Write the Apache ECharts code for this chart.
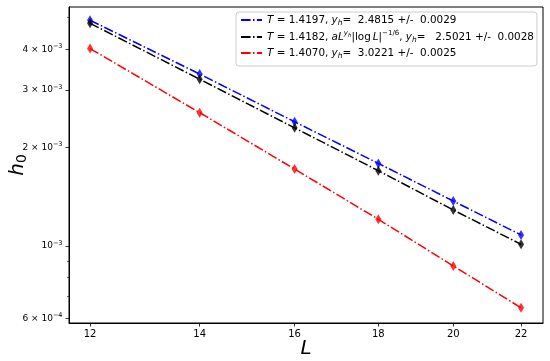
<!DOCTYPE html>
<html>
<head>
<meta charset="utf-8">
<script src="https://cdn.jsdelivr.net/npm/echarts@6/dist/echarts.min.js"></script>
<style>html,body{margin:0;padding:0;background:#fff}#c{width:550px;height:361px}</style>
</head>
<body>
<div id="c"></div>
<script>
const L = [12, 14, 16, 18, 20, 22];
const hBlue = [4.91e-3, 3.36e-3, 2.40e-3, 1.79e-3, 1.373e-3, 1.081e-3];
const hBlack = [4.805e-3, 3.24e-3, 2.30e-3, 1.70e-3, 1.289e-3, 1.012e-3];
const hRed = [4.02e-3, 2.56e-3, 1.72e-3, 1.207e-3, 0.869e-3, 0.647e-3];
const xTicks = [12, 14, 16, 18, 20, 22];
const yTicks = [6e-4, 1e-3, 2e-3, 3e-3, 4e-3];
const yTickLabels = ['6 × 10{sup|−4}', '10{sup|−3}', '2 × 10{sup|−3}', '3 × 10{sup|−3}', '4 × 10{sup|−3}'];
const yMinorTicks = [7e-4, 8e-4, 9e-4, 5e-3];
const names = [
  'T = 1.4197, y_h=  2.4815 +/-  0.0029',
  'T = 1.4182, aL^{y_h}|log L|^{-1/6}, y_h=   2.5021 +/-  0.0028',
  'T = 1.4070, y_h=  3.0221 +/-  0.0025'
];
const richNames = [
  '{i|T} = 1.4197, {i|y}{sub|h}=  2.4815 +/-  0.0029',
  '{i|T} = 1.4182, {i|aL}{supi|y}{supsub|h}|log\u2009{i|L}|{sup|−1/6}, {i|y}{sub|h}=   2.5021 +/-  0.0028',
  '{i|T} = 1.4070, {i|y}{sub|h}=  3.0221 +/-  0.0025'
];
const colors = ['#0000ff', '#000000', '#ff0000'];
const seriesVals = [hBlue, hBlack, hRed];

const lg = Math.log10;
const FONT = 'DejaVu Sans';
const dash = [9.6, 2.4, 1.5, 2.4];

const series = [];
seriesVals.forEach((vals, k) => {
  const d = L.map((x, i) => [lg(x), lg(vals[i])]);
  series.push({
    name: names[k], type: 'line', data: d, symbol: 'none',
    lineStyle: { color: colors[k], width: 1.5, type: dash },
    itemStyle: { color: colors[k] }, z: 2, animation: false
  });
  series.push({
    name: 'pts' + k, type: 'scatter', data: d, symbol: 'diamond', symbolSize: [6, 10],
    itemStyle: { color: colors[k] }, z: 3, animation: false
  });
});

const chart = echarts.init(document.getElementById('c'), null, { renderer: 'canvas' });
chart.setOption({
  animation: false,
  backgroundColor: '#fff',
  textStyle: { fontFamily: FONT },
  grid: { left: 69, right: 7, top: 7, bottom: 38, show: true, borderColor: '#000', borderWidth: 1, containLabel: false, outerBoundsMode: 'none' },
  legend: {
    data: names,
    orient: 'vertical',
    left: 236, top: 12,
    padding: [2, 3, 6, 4],
    itemWidth: 21, itemHeight: 10, itemGap: 3,
    backgroundColor: '#fff',
    borderColor: '#cccccc', borderWidth: 1, borderRadius: 3,
    itemStyle: { opacity: 0 },
    formatter: function (n) { return richNames[names.indexOf(n)]; },
    textStyle: {
      fontFamily: FONT, fontSize: 10.4, color: '#000', lineHeight: 12,
      rich: {
        i: { fontStyle: 'italic', fontSize: 10.4, fontFamily: FONT },
        sub: { fontStyle: 'italic', fontSize: 7.5, padding: [6, 0, 0, 0], fontFamily: FONT },
        supi: { fontStyle: 'italic', fontSize: 7, padding: [0, 0, 7, 0], fontFamily: FONT },
        supsub: { fontStyle: 'italic', fontSize: 5.5, padding: [0, 0, 3, 0], fontFamily: FONT },
        sup: { fontSize: 7, padding: [0, 0, 7, 0], fontFamily: FONT }
      }
    }
  },
  xAxis: {
    type: 'value', min: lg(11.65), max: lg(22.69),
    name: 'L', nameLocation: 'middle', nameGap: 16, nameMoveOverlap: false,
    nameTextStyle: { fontSize: 20, fontStyle: 'italic', color: '#000', fontFamily: FONT },
    splitLine: { show: false },
    axisLine: { show: true, onZero: false, lineStyle: { color: '#000', width: 1 } },
    axisTick: { show: true, length: 3.5, lineStyle: { color: '#000', width: 0.8 }, customValues: xTicks.map(lg) },
    axisLabel: {
      customValues: xTicks.map(lg), margin: 6, fontSize: 10, color: '#000', fontFamily: FONT,
      formatter: function (v) { return String(Math.round(Math.pow(10, v))); }
    }
  },
  yAxis: [{
    type: 'value', min: -3.2357, max: -2.2684,
    name: '{i|h}{s|0}', nameLocation: 'middle', nameGap: 40, nameMoveOverlap: false,
    nameTextStyle: {
      color: '#000', fontFamily: FONT,
      rich: {
        i: { fontSize: 20, fontStyle: 'italic', fontFamily: FONT },
        s: { fontSize: 14, padding: [8, 0, 0, 0], fontFamily: FONT }
      }
    },
    splitLine: { show: false },
    axisLine: { show: true, onZero: false, lineStyle: { color: '#000', width: 1 } },
    axisTick: { show: true, length: 3.5, lineStyle: { color: '#000', width: 0.8 }, customValues: yTicks.map(lg) },
    axisLabel: {
      customValues: yTicks.map(lg), margin: 6.5, fontSize: 9, color: '#000', fontFamily: FONT,
      formatter: function (v) {
        let best = 0, bd = 1e9;
        yTicks.forEach((t, i) => { const dd = Math.abs(lg(t) - v); if (dd < bd) { bd = dd; best = i; } });
        return yTickLabels[best];
      },
      rich: { sup: { fontSize: 6.5, padding: [0, 0, 6, 0], fontFamily: FONT, color: '#000' } }
    }
  }, {
    type: 'value', min: -3.2357, max: -2.2684, position: 'left',
    splitLine: { show: false },
    axisLine: { show: false },
    axisTick: { show: true, length: 2, lineStyle: { color: '#000', width: 0.6 }, customValues: yMinorTicks.map(lg) },
    axisLabel: { show: false }
  }],
  series: series
});
</script>
</body>
</html>
